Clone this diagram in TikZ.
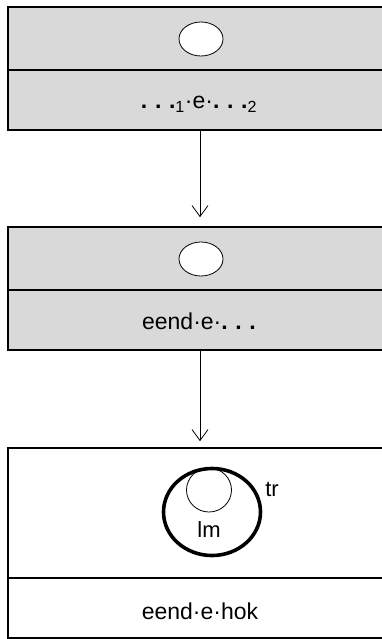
\documentclass[tikz,border=0pt]{standalone}
\usepackage{fontspec}
\setmainfont{Liberation Sans}
\usetikzlibrary{shapes.geometric,arrows.meta}
\definecolor{boxgray}{HTML}{D9D9D9}

\begin{document}
\begin{tikzpicture}[x=1pt,y=-1pt,
	band/.style={draw,line width=1.6pt,minimum width=384pt,inner sep=0pt},
	blob/.style={ellipse,draw,fill=white,line width=0.8pt,inner sep=0pt},
	word/.style={anchor=base,inner sep=0pt,font=\fontsize{23}{26}\selectfont},
	conn/.style={-{Straight Barb[length=11pt,width=16pt]},line width=0.8pt}]
	\clip (0,0) rectangle (382,639);
	\node[band,fill=boxgray,minimum height=63pt] (top1) at (200,38.5){};
	\node[band,fill=boxgray,minimum height=60pt] (row1) at (200,100){};
	\node[band,fill=boxgray,minimum height=63pt] (top2) at (200,258.5){};
	\node[band,fill=boxgray,minimum height=60pt] (row2) at (200,320){};
	\node[band,fill=white,minimum height=130pt] (top3) at (200,513){};
	\node[band,fill=white,minimum height=60pt] (row3) at (200,608){};
	\node[blob,minimum width=44pt,minimum height=34pt] (c1) at (201,39){};
	\node[blob,minimum width=44pt,minimum height=34pt] (c2) at (201,259){};
	\draw[line width=3.6pt] (212,512) ellipse (48.5pt and 43.5pt);
	\node[blob,fill=none,minimum width=45pt,minimum height=44pt] (lm) at (209,490){};
	\node[inner sep=0pt,font=\fontsize{22}{24}\selectfont] (lmlab) at (209,530){lm};
	\node[inner sep=0pt,font=\fontsize{22}{24}\selectfont] (trlab) at (272,489){tr};
	\node[word] (t1) at (199,109){\textbf{.\,\,.\,\,.}\textsubscript{1}·e·\textbf{.\,\,.\,\,.}\textsubscript{2}};
	\node[word] (t2) at (199,329){eend·e·\textbf{.\,\,.\,\,.}};
	\node[word] (t3) at (200,619){eend·e·hok};
	\draw [conn,shorten >=9pt] (row1.south) -- (top2.north);
	\draw [conn,shorten >=6pt] (row2.south) -- (top3.north);
\end{tikzpicture}
\end{document}
